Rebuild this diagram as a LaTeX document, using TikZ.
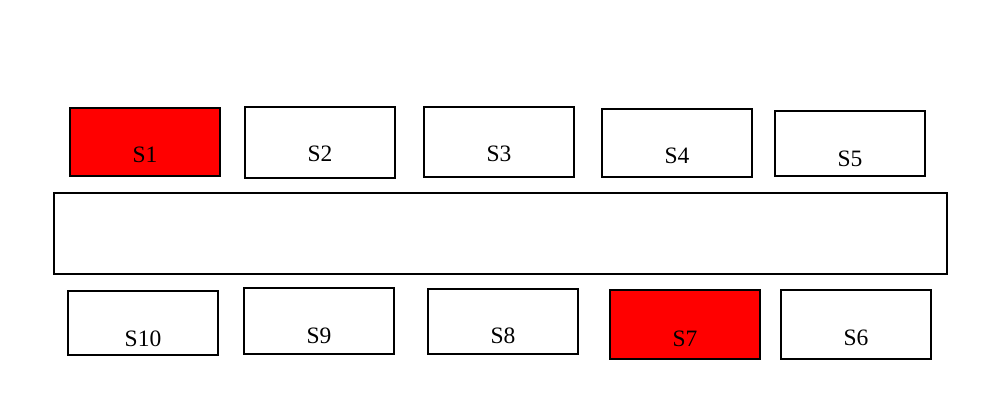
\documentclass[tikz,border=0pt]{standalone}
\usepackage{xcolor}
\definecolor{slotred}{RGB}{255,0,0}
\usepackage{fontspec}
\setmainfont{Liberation Serif}
\usepackage{tikz}
\newcommand{\widthslot}{150pt}
\tikzset{
    common/.style={anchor=north west, draw, rectangle, line width=2pt, inner sep=0pt},
    slot/.style={common, minimum width=\widthslot, text height=55pt, text depth=13pt, font=\fontsize{23.5}{26}\selectfont},
    busy/.style={slot, fill=slotred},
    bus/.style={common, minimum width=893pt, minimum height=81pt}
}
\begin{document}
\begin{tikzpicture}[x=1pt,y=-1pt]
    \useasboundingbox (0,0) rectangle (1002,406);
    % top row
    \path
        (69,107) node[busy] (s1) {S1}
        (244,106) node[slot, text depth=16pt] (s2) {S2}
        (423,106) node[slot, text depth=15pt] (s3) {S3}
        (601,108) node[slot] (s4) {S4}
        (774,110) node[slot, text height=56pt, text depth=9pt] (s5) {S5};
    % middle
    \path (53,192) node[bus] (b) {};
    % bottom row
    \path
        (67,290) node[slot, text depth=9pt] (s10) {S10}
        (243,287) node[slot, text depth=11pt] (s9) {S9}
        (427,288) node[slot, text depth=10pt] (s8) {S8}
        (609,289) node[busy, text height=56pt] (s7) {S7}
        (780,289) node[slot, text depth=14pt] (s6) {S6};
\end{tikzpicture}
\end{document}
